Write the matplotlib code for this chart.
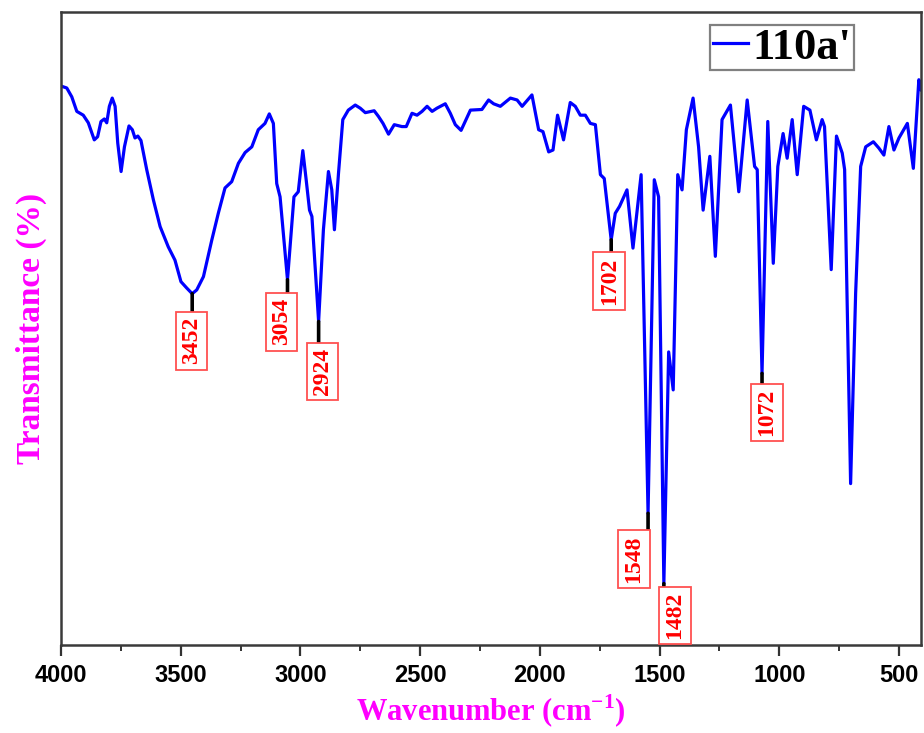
import matplotlib
matplotlib.use("Agg")
import matplotlib.pyplot as plt

# FTIR spectrum of sample 110a'
wavenumber = [
    4000, 3976, 3955, 3934, 3907, 3886, 3861, 3847, 3833, 3819, 3809, 3798,
    3786, 3774, 3763, 3749, 3735, 3716, 3702, 3691, 3679, 3666, 3642, 3614,
    3586, 3552, 3524, 3499, 3475, 3452, 3433, 3405, 3370, 3343, 3315, 3287,
    3259, 3231, 3203, 3176, 3148, 3130, 3113, 3099, 3085, 3054, 3041, 3027,
    3009, 2990, 2976, 2962, 2952, 2924, 2904, 2883, 2869, 2858, 2841, 2823,
    2800, 2771, 2750, 2729, 2692, 2674, 2655, 2632, 2608, 2576, 2558, 2534,
    2513, 2492, 2471, 2450, 2430, 2395, 2374, 2353, 2329, 2290, 2242, 2214,
    2193, 2165, 2123, 2095, 2074, 2033, 2005, 1987, 1963, 1945, 1926, 1901,
    1873, 1852, 1831, 1810, 1789, 1768, 1747, 1731, 1702, 1685, 1667, 1636,
    1611, 1577, 1548, 1522, 1504, 1482, 1462, 1443, 1424, 1406, 1388, 1360,
    1337, 1318, 1290, 1267, 1239, 1204, 1169, 1134, 1103, 1092, 1072, 1048,
    1025, 1006, 984, 967, 946, 925, 898, 872, 845, 821, 811, 783,
    761, 737, 727, 702, 681, 660, 639, 607, 584, 563, 542, 521,
    500, 465, 440, 417, 407,
]
transmittance = [
    88.3, 88.0, 86.6, 84.3, 83.7, 82.5, 79.8, 80.3, 82.7, 83.1, 82.5, 85.1,
    86.4, 85.1, 79.3, 74.8, 78.7, 82.0, 81.4, 80.1, 80.4, 79.7, 75.1, 70.3,
    66.1, 62.9, 60.8, 57.4, 56.4, 55.5, 56.1, 58.2, 64.0, 68.2, 72.2, 73.2,
    76.1, 77.8, 78.7, 81.4, 82.4, 83.9, 82.4, 72.9, 70.8, 57.7, 64.0, 70.8,
    71.6, 78.1, 73.5, 68.7, 67.7, 51.1, 65.6, 74.8, 71.9, 65.6, 74.5, 83.0,
    84.5, 85.3, 84.8, 84.1, 84.4, 83.5, 82.4, 80.7, 82.2, 81.9, 81.9, 84.0,
    83.7, 84.3, 85.1, 84.3, 84.8, 85.5, 84.0, 82.2, 81.3, 84.5, 84.6, 86.1,
    85.5, 85.1, 86.4, 86.1, 85.1, 86.9, 81.4, 81.1, 77.9, 78.2, 83.7, 79.8,
    85.7, 85.1, 83.7, 83.7, 82.4, 82.2, 74.3, 73.7, 64.0, 68.2, 69.3, 71.9,
    62.7, 74.3, 20.8, 73.5, 70.8, 9.7, 46.3, 40.3, 74.3, 71.9, 81.4, 86.4,
    78.7, 68.7, 77.2, 61.4, 83.0, 85.3, 71.6, 86.1, 75.6, 75.1, 42.9, 82.7,
    60.3, 75.6, 80.8, 76.9, 83.0, 74.3, 85.1, 84.5, 79.8, 83.0, 81.9, 59.3,
    80.4, 77.7, 75.1, 25.5, 55.6, 75.6, 78.7, 79.5, 78.5, 77.4, 81.9, 78.2,
    80.1, 82.4, 75.3, 89.3, 87.7,
]

# Labelled absorption bands
peak_labels = ["3452", "3054", "2924", "1702", "1548", "1482", "1072"]
# Label box placement relative to each band minimum (pixels: dx, dy downward)
label_offsets = [(-1, 47), (-6, 42), (4, 50), (-2, 41), (-14, 46), (11, 32), (5, 39)]

xticks = [4000, 3500, 3000, 2500, 2000, 1500, 1000, 500]

serif_bold = dict(family="Liberation Serif", weight="bold")
plt.rcParams["mathtext.fontset"] = "custom"
plt.rcParams["mathtext.rm"] = "Liberation Serif:bold"
plt.rcParams["mathtext.bf"] = "Liberation Serif:bold"

fig = plt.figure(figsize=(9.24, 7.33), dpi=100)
ax = fig.add_axes([61 / 924, 88 / 733, 860 / 924, 633 / 733])

ax.plot(wavenumber, transmittance, color="#0000ff", lw=2.3,
        solid_joinstyle="round", label="110a'")

ax.set_xlim(4000, 408)
ax.set_ylim(0, 100)

for lab, (dx, dy) in zip(peak_labels, label_offsets):
    wn = float(lab)
    t = transmittance[wavenumber.index(int(lab))]
    box_half = 29
    lead = max(dy - box_half, 3)
    # short black leader below the band minimum
    ax.annotate("", xy=(wn, t), xytext=(0, -lead), textcoords="offset pixels",
                arrowprops=dict(arrowstyle="-", color="black", lw=2.6,
                                shrinkA=0, shrinkB=0))
    ax.annotate(lab, xy=(wn, t), xytext=(dx, -dy), textcoords="offset pixels",
                ha="center", va="center", rotation=90, color="#ff0000",
                fontsize=17, **serif_bold,
                bbox=dict(boxstyle="square,pad=0.22", fc="white",
                          ec="#ff5050", lw=1.3))

ax.set_xticks(xticks)
ax.set_xticks(range(3750, 400, -500), minor=True)
ax.set_yticks([])
ax.tick_params(axis="x", which="major", direction="out", length=8, width=1.6,
               color="#333333", pad=6)
ax.tick_params(axis="x", which="minor", direction="out", length=4.5, width=1.4,
               color="#333333")
for lbl in ax.get_xticklabels():
    lbl.set_fontfamily("Liberation Sans")
    lbl.set_fontweight("bold")
    lbl.set_fontsize(17)

for sp in ax.spines.values():
    sp.set_color("#3a3a3a")
    sp.set_linewidth(1.8)

ax.set_xlabel("Wavenumber (cm$^{-1}$)", color="#ff00ff", fontsize=22,
              labelpad=4, **serif_bold)
ax.set_ylabel("Transmittance (%)", color="#ff00ff", fontsize=24,
              labelpad=10, **serif_bold)

leg = ax.legend(loc="upper left", bbox_to_anchor=(0.755, 0.979),
                prop=dict(family="Liberation Serif", weight="bold", size=32),
                handlelength=0.8, handletextpad=0.1, borderpad=0.05,
                borderaxespad=0, fancybox=False, framealpha=1)
leg.get_frame().set_edgecolor("#808080")
leg.get_frame().set_linewidth(1.6)

fig.savefig("out.png", dpi=100)
